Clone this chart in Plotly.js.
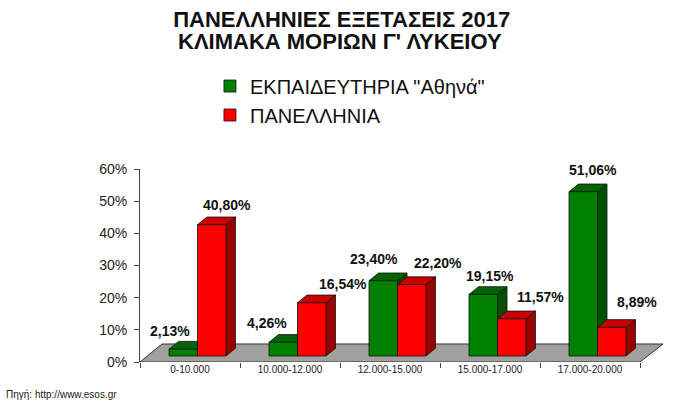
<!DOCTYPE html>
<html>
<head>
<meta charset="utf-8">
<script src="https://cdn.plot.ly/plotly-3.0.1.min.js"></script>
<style>html,body{margin:0;padding:0;background:#fff;}#chart{width:674px;height:406px;}</style>
</head>
<body>
<div id="chart"></div>
<script>
// ---- data ----
const categories = ["0-10.000", "10.000-12.000", "12.000-15.000", "15.000-17.000", "17.000-20.000"];
const athinaValues = [2.13, 4.26, 23.40, 19.15, 51.06];
const panelliniaValues = [40.80, 16.54, 22.20, 11.57, 8.89];
const seriesNames = ['ΕΚΠΑΙΔΕΥΤΗΡΙΑ "Αθηνά"', 'ΠΑΝΕΛΛΗΝΙΑ'];
const yTickValues = [0, 10, 20, 30, 40, 50, 60];
const yTickLabels = ["0%", "10%", "20%", "30%", "40%", "50%", "60%"];
const titleLine1 = "ΠΑΝΕΛΛΗΝΙΕΣ ΕΞΕΤΑΣΕΙΣ 2017";
const titleLine2 = "ΚΛΙΜΑΚΑ ΜΟΡΙΩΝ Γ' ΛΥΚΕΙΟΥ";
const sourceText = "Πηγή: http://www.esos.gr";

// ---- styling / geometry ----
const FONT = "Liberation Sans, Arial, sans-serif";
const barW = 0.285;
const offsets = [-0.21, 0.075];
const frontColors = ["#008000", "#ff0000"];
const topColors = ["#006400", "#c80000"];
const sideColors = ["#004f00", "#9a0000"];
const depthX = 0.095;   // 3D depth in x data units
const depthY = 2.4;     // 3D depth in y data units
const labelShiftX = [[-13, -16, -9, 7, 10], [15, 31, 26, 29, 25]];
const labelShiftY = [[18, 19, 22, 18, 22], [20, 19, 22, 22, 25]];

const xIdx = categories.map((c, i) => i);
const allSeries = [athinaValues, panelliniaValues];
const fmt = v => v.toFixed(2).replace('.', ',') + '%';

const traces = allSeries.map((vals, s) => ({
  type: 'bar',
  name: seriesNames[s],
  x: xIdx,
  y: vals,
  yaxis: 'y2',
  width: barW,
  offset: offsets[s],
  marker: {color: frontColors[s], line: {color: '#111', width: 0.8}},
  hoverinfo: 'skip'
}));

const shapes = [];
// floor
shapes.push({
  type: 'path', xref: 'x', yref: 'y', layer: 'below',
  path: `M -0.5,0 L 4.5,0 L 4.73,5.6 L -0.28,5.6 Z`,
  fillcolor: '#a0a0a0', line: {color: '#333', width: 1}
});
allSeries.forEach((vals, s) => {
  vals.forEach((v, i) => {
    const xL = xIdx[i] + offsets[s];
    const xR = xL + barW;
    shapes.push({
      type: 'path', xref: 'x', yref: 'y2', layer: 'below',
      path: `M ${xR},0 L ${xR},${v} L ${xR + depthX},${v + depthY} L ${xR + depthX},${depthY} Z`,
      fillcolor: sideColors[s], line: {color: '#111', width: 0.8}
    });
    shapes.push({
      type: 'path', xref: 'x', yref: 'y2', layer: 'below',
      path: `M ${xL},${v} L ${xR},${v} L ${xR + depthX},${v + depthY} L ${xL + depthX},${v + depthY} Z`,
      fillcolor: topColors[s], line: {color: '#111', width: 0.8}
    });
  });
});

const annotations = [];
allSeries.forEach((vals, s) => {
  vals.forEach((v, i) => {
    annotations.push({
      xref: 'x', yref: 'y2',
      x: xIdx[i] + offsets[s] + barW / 2, y: v,
      xshift: labelShiftX[s][i], yshift: labelShiftY[s][i],
      text: '<b>' + fmt(v) + '</b>', showarrow: false,
      xanchor: 'center', yanchor: 'middle',
      font: {family: FONT, size: 14, color: '#111'}
    });
  });
});
annotations.push({
  xref: 'paper', yref: 'paper', x: 0.377, y: 1.662,
  text: '<b>' + titleLine2 + '</b>', showarrow: false,
  xanchor: 'center', yanchor: 'middle',
  font: {family: FONT, size: 22, color: '#111'}
});
annotations.push({
  xref: 'paper', yref: 'paper', x: -0.257, y: -0.166,
  text: sourceText, showarrow: false,
  xanchor: 'left', yanchor: 'middle',
  font: {family: FONT, size: 10, color: '#222'}
});

const layout = {
  width: 674, height: 406,
  margin: {l: 140, r: 4, t: 169, b: 44, autoexpand: false},
  paper_bgcolor: '#fff', plot_bgcolor: 'rgba(0,0,0,0)',
  barmode: 'overlay',
  showlegend: true,
  hovermode: false,
  title: {
    text: '<b>' + titleLine1 + '</b>',
    xref: 'container', yref: 'container',
    x: 0.507, y: 0.953, xanchor: 'center', yanchor: 'middle',
    font: {family: FONT, size: 22, color: '#111'}
  },
  legend: {
    xref: 'paper', yref: 'paper',
    x: 0.132, y: 1.531, xanchor: 'left', yanchor: 'top',
    font: {family: FONT, size: 20, color: '#111'},
    bgcolor: 'rgba(0,0,0,0)', traceorder: 'normal'
  },
  xaxis: {
    range: [-0.5, 4.8], automargin: false,
    tickmode: 'array', tickvals: xIdx, ticktext: categories, tickangle: 0,
    ticks: '', showline: false, showgrid: false, zeroline: false,
    tickfont: {family: FONT, size: 10, color: '#222'},
    minor: {tickmode: 'array', tickvals: [-0.5, 0.5, 1.5, 2.5, 3.5, 4.5], ticks: 'outside', ticklen: 5, tickcolor: '#444', tickwidth: 1, showgrid: false}
  },
  yaxis: {
    range: [0, 60], automargin: false,
    tickmode: 'array', tickvals: yTickValues, ticktext: yTickLabels,
    ticks: 'outside', ticklen: 5, tickcolor: '#444',
    showline: true, linecolor: '#444', linewidth: 1,
    showgrid: false, zeroline: false,
    tickfont: {family: FONT, size: 14, color: '#222'},
    ticklabelstandoff: 4
  },
  yaxis2: {
    overlaying: 'y', range: [-1.87, 58.13], visible: false
  },
  shapes: shapes,
  annotations: annotations
};

Plotly.newPlot('chart', traces, layout, {displayModeBar: false, staticPlot: true});
</script>
</body>
</html>
